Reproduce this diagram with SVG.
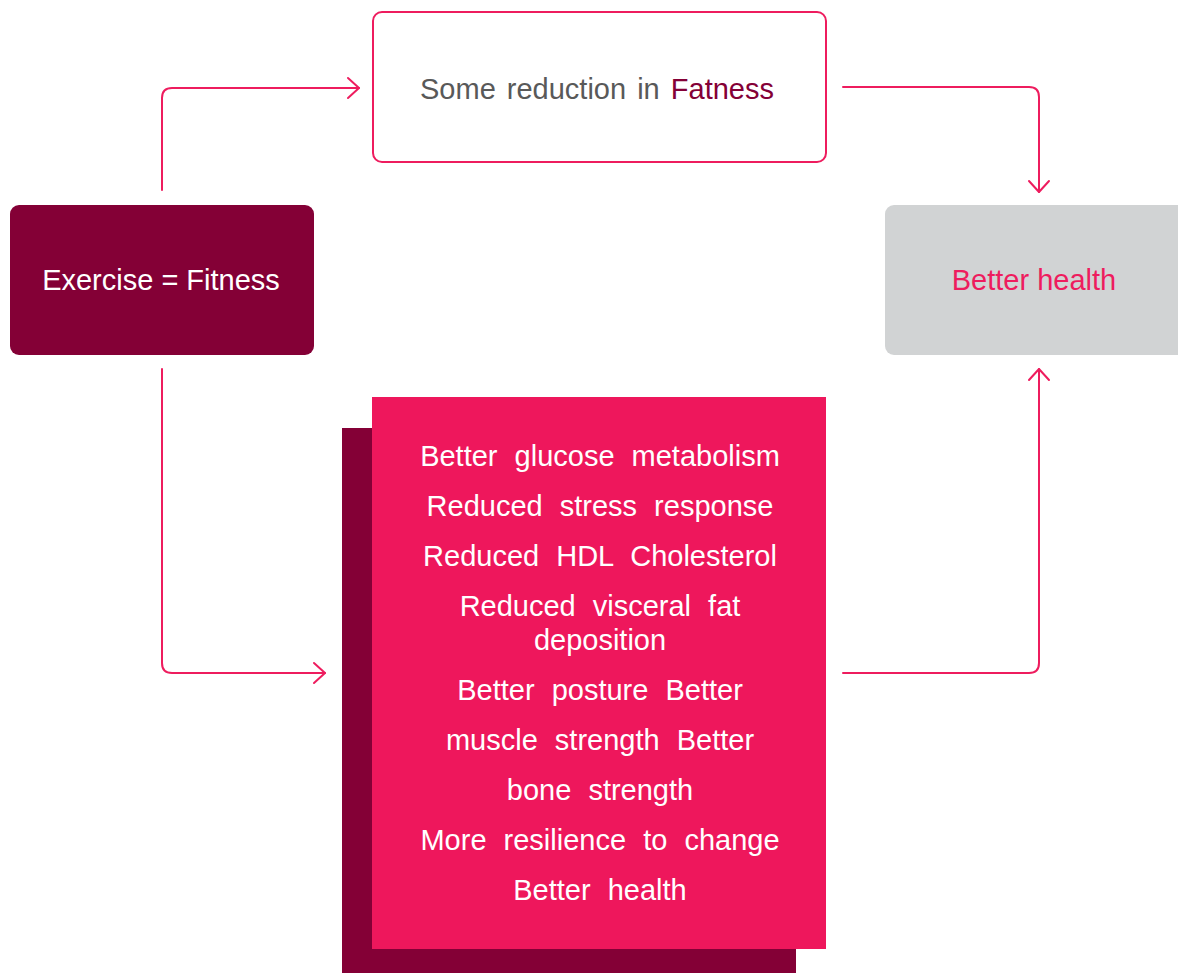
<svg xmlns="http://www.w3.org/2000/svg" width="1178" height="973" viewBox="0 0 1178 973">
<style>
  text { font-family: "Liberation Sans", Arial, sans-serif; font-size: 29px; text-anchor: middle; }
  .conn { fill: none; stroke: #ee1c5e; stroke-width: 2; stroke-linecap: round; }
  .list { fill: #ffffff; font-size: 29px; word-spacing: 9px; }
</style>
<defs>
  <marker id="chev" markerUnits="userSpaceOnUse" markerWidth="26" markerHeight="26" refX="13" refY="13" orient="auto" overflow="visible">
    <path d="M2,3 L13,13 L2,23" fill="none" stroke="#ee1c5e" stroke-width="2" stroke-linecap="round" stroke-linejoin="round"/>
  </marker>
</defs>
<rect width="1178" height="973" fill="#ffffff"/>

<g id="connectors">
  <path class="conn" d="M162,190 V98 Q162,88 172,88 H359" marker-end="url(#chev)"/>
  <path class="conn" d="M843,87 H1029 Q1039,87 1039,97 V192" marker-end="url(#chev)"/>
  <path class="conn" d="M162,369 V663 Q162,673 172,673 H325" marker-end="url(#chev)"/>
  <path class="conn" d="M843,673 H1029 Q1039,673 1039,663 V369" marker-end="url(#chev)"/>
</g>

<g id="node-fatness">
  <rect x="373" y="12" width="453" height="150" rx="9" fill="#ffffff" stroke="#ee1c5e" stroke-width="2"/>
  <text x="597" y="99" style="word-spacing:3px"><tspan fill="#595959">Some reduction in </tspan><tspan fill="#840036">Fatness</tspan></text>
</g>

<g id="node-exercise">
  <rect x="10" y="205" width="304" height="150" rx="9" fill="#840036"/>
  <text x="161" y="290" fill="#ffffff">Exercise = Fitness</text>
</g>

<g id="node-health">
  <rect x="885" y="205" width="310" height="150" rx="9" fill="#d1d3d4"/>
  <text x="1034" y="290" fill="#ee1c5e">Better health</text>
</g>

<g id="node-benefits">
  <rect x="342" y="428" width="454" height="545" fill="#840036"/>
  <rect x="372" y="397" width="454" height="552" fill="#ee175c"/>
  <text class="list" x="600" y="466">Better glucose metabolism</text>
  <text class="list" x="600" y="516">Reduced stress response</text>
  <text class="list" x="600" y="566">Reduced HDL Cholesterol</text>
  <text class="list" x="600" y="616">Reduced visceral fat</text>
  <text class="list" x="600" y="650">deposition</text>
  <text class="list" x="600" y="700">Better posture Better</text>
  <text class="list" x="600" y="750">muscle strength Better</text>
  <text class="list" x="600" y="800">bone strength</text>
  <text class="list" x="600" y="850">More resilience to change</text>
  <text class="list" x="600" y="900">Better health</text>
</g>
</svg>
